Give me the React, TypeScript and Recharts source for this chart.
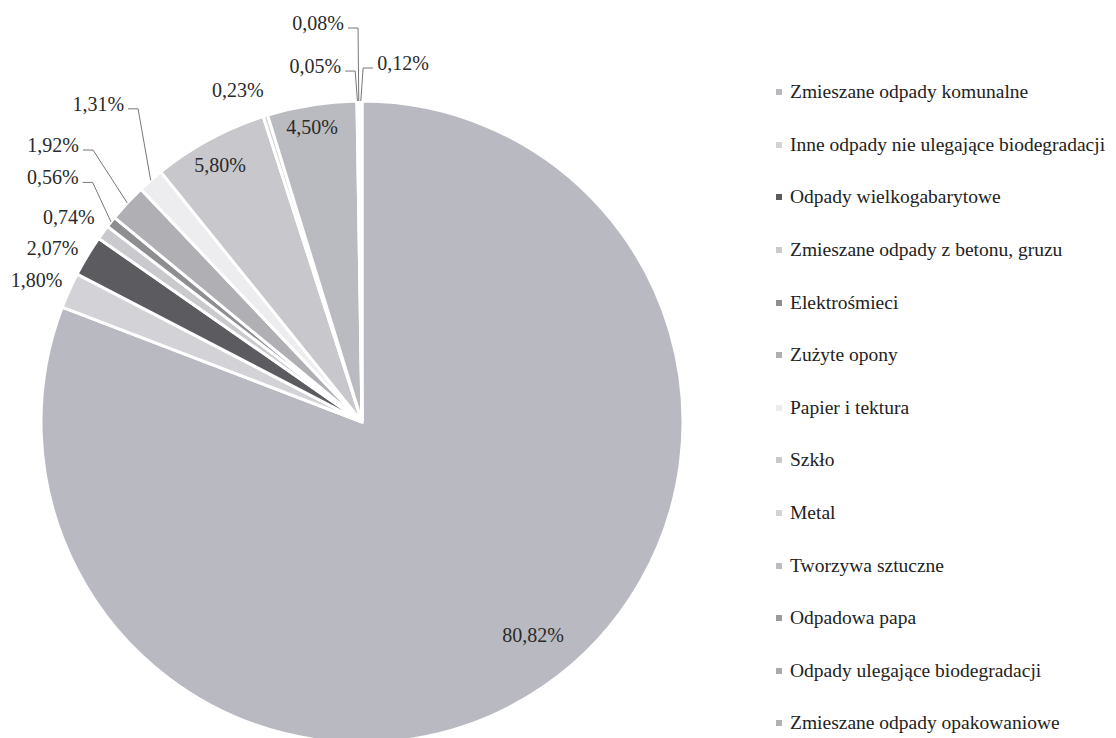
import React from "react";
import { PieChart, Pie, Cell, Legend } from "recharts";

// kategorie odpadów, kolejność jak w legendzie (zgodnie z ruchem wskazówek od godz. 12)
const categories = [
  "Zmieszane odpady komunalne",
  "Inne odpady nie ulegające biodegradacji",
  "Odpady wielkogabarytowe",
  "Zmieszane odpady z betonu, gruzu",
  "Elektrośmieci",
  "Zużyte opony",
  "Papier i tektura",
  "Szkło",
  "Metal",
  "Tworzywa sztuczne",
  "Odpadowa papa",
  "Odpady ulegające biodegradacji",
  "Zmieszane odpady opakowaniowe",
];

// udział procentowy
const shares = [80.82, 1.8, 2.07, 0.74, 0.56, 1.92, 1.31, 5.8, 0.23, 4.5, 0.05, 0.08, 0.12];

const colors = [
  "#b9bac1",
  "#d2d2d7",
  "#5b5b60",
  "#c9c9ce",
  "#8d8d92",
  "#afafb4",
  "#ededf0",
  "#c7c7cc",
  "#d3d3d7",
  "#babbc0",
  "#9a9a9f",
  "#a9a9ae",
  "#b1b1b6",
];

// rozmieszczenie etykiet: przesunięcie kąta i promienia względem środka wycinka
// leader = etykieta z linią odniesienia (łamana)
const labelLayout: { dA: number; dr: number; leader?: "left" | "right" }[] = [
  { dA: 4.3, dr: -48 },
  { dA: 0.6, dr: 34 },
  { dA: 1.8, dr: 34 },
  { dA: 1.2, dr: 37 },
  { dA: -3.1, dr: 39.5, leader: "left" },
  { dA: -2.3, dr: 61.5, leader: "left" },
  { dA: -5.6, dr: 64, leader: "left" },
  { dA: 0.5, dr: -27 },
  { dA: 3, dr: 33 },
  { dA: 0.6, dr: -22 },
  { dA: 0.3, dr: 30, leader: "left" },
  { dA: 0, dr: 73, leader: "left" },
  { dA: -0.4, dr: 33, leader: "right" },
];

const data = categories.map((name, i) => ({ name, value: shares[i] }));

const FONT = '"Liberation Serif", "DejaVu Serif", serif';
const RAD = Math.PI / 180;

const polar = (cx: number, cy: number, r: number, a: number) => ({
  x: cx + r * Math.cos(a * RAD),
  y: cy - r * Math.sin(a * RAD),
});

const fmt = (v: number) => v.toFixed(2).replace(".", ",") + "%";

const renderLabel = (props: any) => {
  const { cx, cy, midAngle, outerRadius, index, value } = props;
  const lay = labelLayout[index];
  const p = polar(cx, cy, outerRadius + lay.dr, midAngle + lay.dA);
  const text = fmt(value);

  if (!lay.leader) {
    return (
      <text
        key={`lbl-${index}`}
        x={p.x}
        y={p.y}
        textAnchor="middle"
        dominantBaseline="central"
        fontFamily={FONT}
        fontSize={20}
        fill="#2a2a2a"
      >
        {text}
      </text>
    );
  }

  const anchor = polar(cx, cy, outerRadius, midAngle);
  const dir = lay.leader === "left" ? -1 : 1;
  const hx = p.x + dir * 10;
  return (
    <g key={`lbl-${index}`}>
      <polyline
        points={`${anchor.x},${anchor.y} ${p.x},${p.y} ${hx},${p.y}`}
        fill="none"
        stroke="#777"
        strokeWidth={1}
      />
      <text
        x={hx + dir * 4}
        y={p.y - 5}
        textAnchor={dir < 0 ? "end" : "start"}
        dominantBaseline="central"
        fontFamily={FONT}
        fontSize={20}
        fill="#2a2a2a"
      >
        {text}
      </text>
    </g>
  );
};

const renderLegend = () => (
  <ul style={{ listStyle: "none", margin: 0, padding: 0, fontFamily: FONT }}>
    {categories.map((name, i) => (
      <li
        key={name}
        style={{
          height: 52.6,
          display: "flex",
          alignItems: "center",
          fontSize: 19.5,
          color: "#222",
          whiteSpace: "nowrap",
        }}
      >
        <span
          style={{
            display: "inline-block",
            width: 6,
            height: 6,
            background: colors[i],
            marginRight: 8,
          }}
        />
        {name}
      </li>
    ))}
  </ul>
);

export default function App() {
  return (
    <div style={{ position: "absolute", left: 0, top: 0, width: 1116, height: 738, background: "#fff" }}>
      <PieChart width={1116} height={738}>
        <Pie
          data={data}
          dataKey="value"
          nameKey="name"
          cx={357}
          cy={417}
          outerRadius={321}
          startAngle={90}
          endAngle={-270}
          stroke="#fff"
          strokeWidth={3}
          label={renderLabel}
          labelLine={false}
          isAnimationActive={false}
        >
          {data.map((entry, i) => (
            <Cell key={`cell-${i}`} fill={colors[i]} />
          ))}
        </Pie>
        <Legend
          layout="vertical"
          content={renderLegend}
          wrapperStyle={{ position: "absolute", left: 776, top: 66, width: 340 }}
        />
      </PieChart>
    </div>
  );
}
